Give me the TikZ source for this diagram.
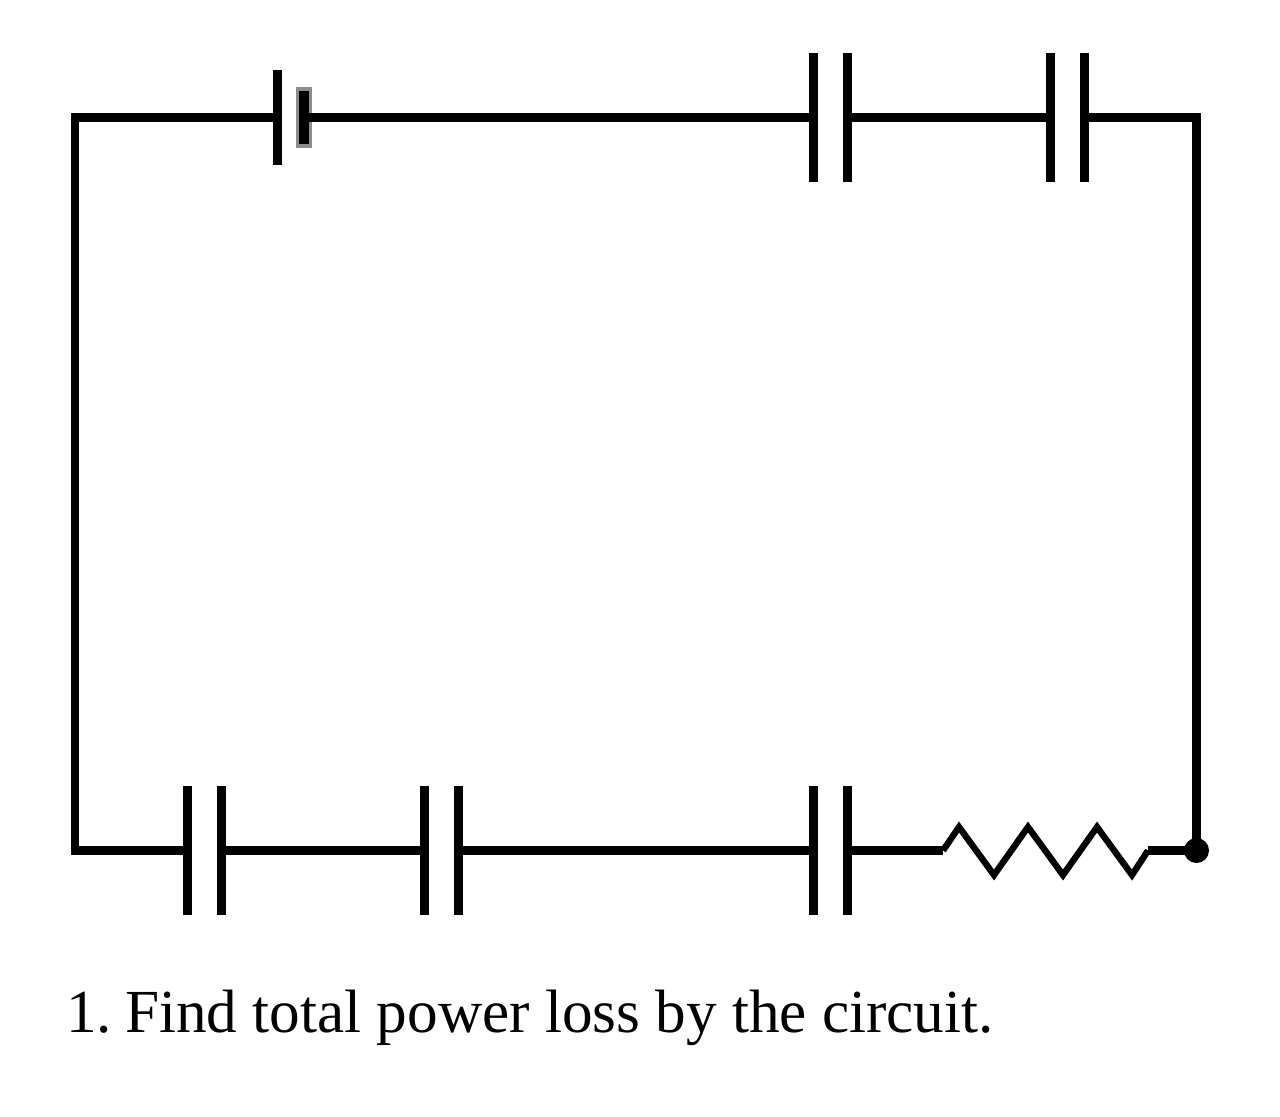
\documentclass[tikz,border=0pt]{standalone}
\usepackage{fontspec}
\setmainfont{Liberation Serif}
\tikzset{
  wire/.style={line width=4.25pt,line join=miter,line cap=butt,black},
  resline/.style={line width=3.2pt,line join=miter,black},
  plate/.style={rectangle,fill=black,draw=none,inner sep=0pt,minimum width=4.5pt,minimum height=64.5pt},
  longplate/.style={rectangle,fill=black,draw=none,inner sep=0pt,minimum width=4.5pt,minimum height=47.5pt},
  shortplate/.style={rectangle,fill=black,draw=black!45,line width=1.8pt,inner sep=0pt,minimum width=6.5pt,minimum height=28.5pt},
  dotnode/.style={circle,fill=black,draw=none,inner sep=0pt,minimum size=12.5pt},
  caption/.style={anchor=base west,inner sep=0pt,font=\fontsize{30.6pt}{36pt}\selectfont}
}
\begin{document}
\frenchspacing
\begin{tikzpicture}[x=0.5pt,y=-0.5pt]
\useasboundingbox[fill=white] (0,0) rectangle (1280,1116);
% corners
\coordinate (tl) at (75,117.5);
\coordinate (tr) at (1196.5,117.5);
\coordinate (bl) at (75,850.5);
% battery
\node[longplate] (batL) at (277.5,117.5) {};
\node[shortplate] (batS) at (304,117.5) {};
% top capacitors
\node[plate] (c1a) at (813,117.5) {};
\node[plate] (c1b) at (847,117.5) {};
\node[plate] (c2a) at (1050,117.5) {};
\node[plate] (c2b) at (1084,117.5) {};
% bottom capacitors
\node[plate] (c3a) at (187,850.5) {};
\node[plate] (c3b) at (221,850.5) {};
\node[plate] (c4a) at (424,850.5) {};
\node[plate] (c4b) at (458,850.5) {};
\node[plate] (c5a) at (813,850.5) {};
\node[plate] (c5b) at (847,850.5) {};
% resistor
\coordinate (rs) at (943,850.5);
\coordinate (re) at (1148,850.5);
\node[dotnode] (dot) at (1196.5,850.5) {};
% wires
\draw[wire] (batL.center) -- (tl) -- (bl) -- (c3a.center);
\draw[wire] (batS.center) -- (c1a.center);
\draw[wire] (c1b.center) -- (c2a.center);
\draw[wire] (c2b.center) -- (tr) -- (dot.center);
\draw[wire] (c3b.center) -- (c4a.center);
\draw[wire] (c4b.center) -- (c5a.center);
\draw[wire] (c5b.center) -- (rs);
\draw[wire] (re) -- (dot.center);
\draw[resline] (rs) -- (959,827) -- (994,875) -- (1028,827) -- (1063,875) -- (1097,827) -- (1132,875) -- (re);
\node[caption] (cap) at (66,1032) {1.\kern-1.2pt{} Find total power loss by the circuit.};
\end{tikzpicture}
\end{document}
